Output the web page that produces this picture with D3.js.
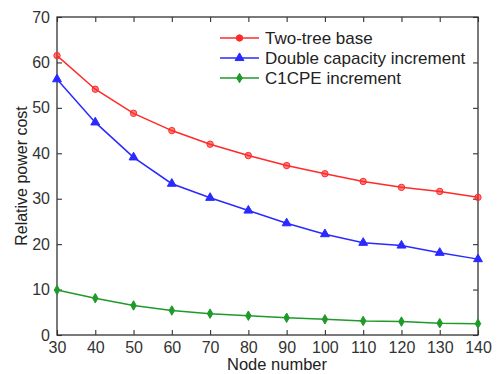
<!DOCTYPE html>
<html>
<head>
<meta charset="utf-8">
<script src="https://cdn.jsdelivr.net/npm/d3@7"></script>
<style>
  body { margin: 0; background: #fff; }
  text { font-family: "Liberation Sans", Arial, sans-serif; }
</style>
</head>
<body>
<script>
const nodes = [30, 40, 50, 60, 70, 80, 90, 100, 110, 120, 130, 140]
const twoTree = [61.5, 54.1, 48.8, 45.0, 42.0, 39.5, 37.3, 35.5, 33.8, 32.5, 31.6, 30.3]
const doubleCap = [56.3, 46.8, 39.1, 33.3, 30.2, 27.4, 24.6, 22.2, 20.3, 19.7, 18.1, 16.7]
const c1cpe = [9.9, 8.1, 6.5, 5.4, 4.7, 4.25, 3.8, 3.45, 3.1, 2.95, 2.6, 2.5]
const xTicks = [30, 40, 50, 60, 70, 80, 90, 100, 110, 120, 130, 140]
const yTicks = [0, 10, 20, 30, 40, 50, 60, 70]

const series = [
    { name: 'Two-tree base', values: twoTree, color: '#ff2a2a', symbol: d3.symbolCircle, size: 32 },
    { name: 'Double capacity increment', values: doubleCap, color: '#2a2aff', symbol: d3.symbolTriangle, size: 34 },
    { name: 'C1CPE increment', values: c1cpe, color: '#1f9a2a', symbol: d3.symbolDiamond, size: 26 }
]

var width = 497, height = 374
var margin = { top: 17, right: 19, bottom: 39, left: 57 }
var w = width - margin.left - margin.right,
    h = height - margin.top - margin.bottom

let x = d3.scaleLinear().domain([30, 140]).range([0, w])
let y = d3.scaleLinear().domain([0, 70]).range([h, 0])

let svg = d3.select('body').append('svg')
    .attr('width', width)
    .attr('height', height)
let g = svg.append('g').attr('transform', `translate(${margin.left}, ${margin.top})`)

// frame
g.append('rect').attr('width', w).attr('height', h)
    .attr('fill', 'none').attr('stroke', '#333').attr('stroke-width', 1.3)

// ticks on all sides, pointing inward
function styleAxis(sel, hideText) {
    sel.select('.domain').remove()
    sel.selectAll('line').attr('stroke', '#333').attr('stroke-width', 1.1)
    sel.selectAll('text').attr('fill', '#333').style('font-size', '16px')
    if (hideText) sel.selectAll('text').remove()
}
g.append('g').attr('transform', `translate(0, ${h})`)
    .call(d3.axisBottom(x).tickValues(xTicks).tickSize(-5).tickPadding(7))
    .call(s => styleAxis(s, false))
g.append('g')
    .call(d3.axisTop(x).tickValues(xTicks).tickSize(-5))
    .call(s => styleAxis(s, true))
g.append('g')
    .call(d3.axisLeft(y).tickValues(yTicks).tickSize(-5).tickPadding(7))
    .call(s => styleAxis(s, false))
g.append('g').attr('transform', `translate(${w}, 0)`)
    .call(d3.axisRight(y).tickValues(yTicks).tickSize(-5))
    .call(s => styleAxis(s, true))

let line = d3.line()
    .x(function (d, i) { return x(nodes[i]) })
    .y(function (d) { return y(d) })

for (let s of series) {
    g.append('path').datum(s.values)
        .attr('fill', 'none').attr('stroke', s.color).attr('stroke-width', 1.5)
        .attr('d', line)
    g.selectAll(null).data(s.values).enter().append('path')
        .attr('transform', (d, i) => `translate(${x(nodes[i])}, ${y(d)})`)
        .attr('d', d3.symbol().type(s.symbol).size(s.size))
        .attr('fill', s.color).attr('fill-opacity', s.symbol === d3.symbolCircle ? 0.6 : 1)
        .attr('stroke', s.color).attr('stroke-width', 1)
}

// legend
let legend = g.append('g').attr('transform', `translate(${220 - margin.left}, ${38 - margin.top})`)
series.forEach(function (s, i) {
    let row = legend.append('g').attr('transform', `translate(0, ${i * 20})`)
    row.append('line').attr('x1', 0).attr('x2', 39).attr('stroke', s.color).attr('stroke-width', 1.5)
    row.append('path').attr('transform', 'translate(19.5, 0)')
        .attr('d', d3.symbol().type(s.symbol).size(s.size))
        .attr('fill', s.color).attr('stroke', s.color)
    row.append('text').attr('x', 45).attr('dy', '0.35em')
        .attr('fill', '#222').style('font-size', '17px').text(s.name)
})

// axis titles
svg.append('text')
    .attr('x', 277).attr('y', 370)
    .attr('text-anchor', 'middle').attr('fill', '#222').style('font-size', '16.5px')
    .text('Node number')
svg.append('text')
    .attr('transform', `translate(27, ${margin.top + h / 2}) rotate(-90)`)
    .attr('text-anchor', 'middle').attr('fill', '#222').style('font-size', '16px')
    .text('Relative power cost')
</script>
</body>
</html>
